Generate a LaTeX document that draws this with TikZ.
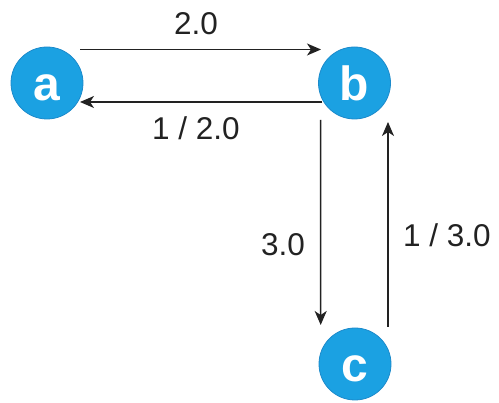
\documentclass[tikz,border=0pt]{standalone}
\usepackage{fontspec}
\setmainfont{Liberation Sans}
\usetikzlibrary{arrows.meta,calc}
\definecolor{nodeblue}{HTML}{1BA1E2}
\definecolor{nodeedge}{HTML}{1C8ACB}
\definecolor{edgecol}{HTML}{222222}
\begin{document}
\begin{tikzpicture}[x=1pt,y=-1pt,
  vertex/.style={circle,fill=nodeblue,draw=nodeedge,line width=0.8pt,minimum size=72pt,inner sep=0pt,
    text=white,font=\fontsize{48}{48}\selectfont\bfseries,text height=35pt,text depth=0pt},
  link/.style={draw=edgecol,line width=1.5pt,-{Stealth[length=14pt,width=12pt,inset=4pt]}},
  lbl/.style={font=\fontsize{31.5}{31.5}\selectfont,text=edgecol,anchor=base,inner sep=0pt}]
\useasboundingbox (0,0) rectangle (499,403);
\node[vertex] (a) at (47,83) {a};
\node[vertex] (b) at (354.5,83) {b};
\node[vertex] (c) at (355,364) {c};
\draw[link] ($(a.center)+(33,-33.5)$) -- ($(b.center)+(-33.5,-33.5)$);
\draw[link] ($(b.center)+(-32.5,19)$) -- ($(a.center)+(33,19)$);
\draw[link] ($(b.center)+(-34,37)$) -- ($(c.center)+(-34.3,-39)$);
\draw[link] ($(c.center)+(33,-37)$) -- ($(b.center)+(33.5,39)$);
\node[lbl] (l1) at (196,35) {2.0};
\node[lbl] (l2) at (196,140) {1 / 2.0};
\node[lbl] (l3) at (283,256) {3.0};
\node[lbl] (l4) at (447,247) {1 / 3.0};
\end{tikzpicture}
\end{document}
